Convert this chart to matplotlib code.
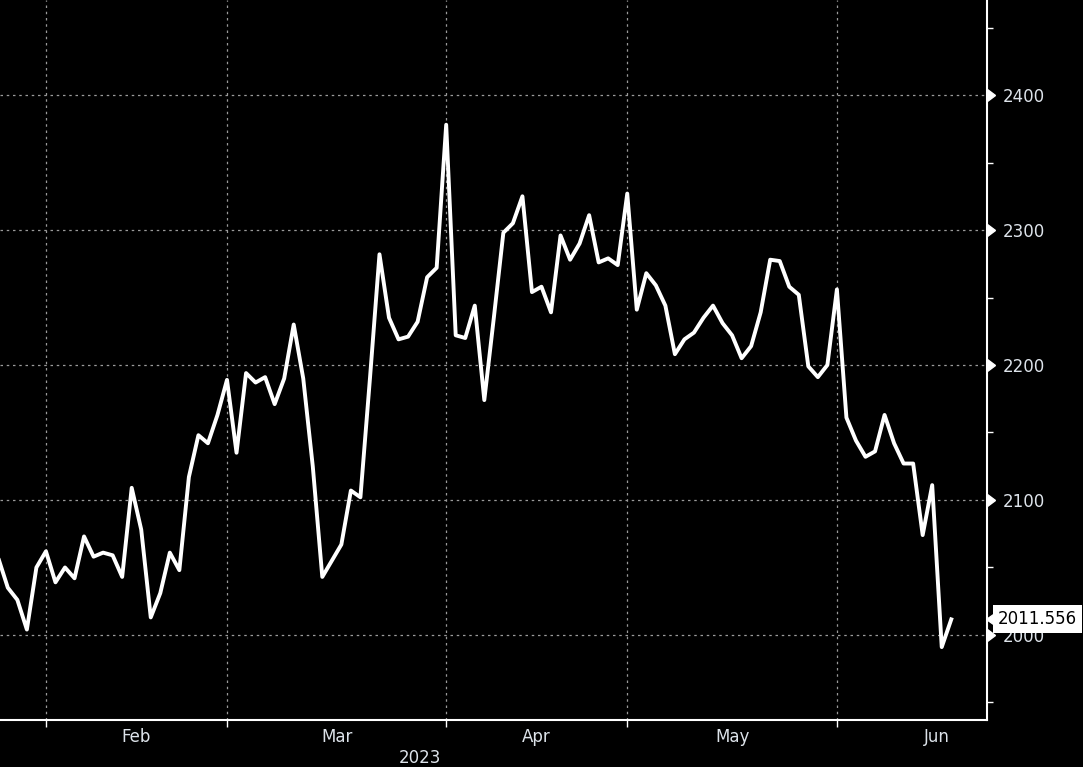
import numpy as np
import pandas as pd
import matplotlib
matplotlib.use("Agg")
import matplotlib.pyplot as plt
import matplotlib.transforms as mtransforms

# daily closes, one per trading day (US market calendar)
start_day = "2023-01-25"
holidays = ["2023-02-20", "2023-04-07", "2023-05-29", "2023-06-19", "2023-07-04"]
values = [2057, 2035, 2026, 2004, 2050, 2062, 2039, 2050, 2042, 2073,
          2058, 2061, 2059, 2043, 2109, 2078, 2013, 2031, 2061, 2048,
          2117, 2148, 2142, 2163, 2189, 2135, 2194, 2187, 2191, 2171,
          2190, 2230, 2190, 2125, 2043, 2055, 2067, 2107, 2102, 2190,
          2282, 2235, 2219, 2221, 2232, 2265, 2272, 2378, 2222, 2220,
          2244, 2174, 2235, 2298, 2305, 2325, 2254, 2258, 2239, 2296,
          2278, 2290, 2311, 2276, 2279, 2274, 2327, 2241, 2268, 2259,
          2244, 2208, 2219, 2224, 2235, 2244, 2231, 2222, 2205, 2214,
          2239, 2278, 2277, 2258, 2252, 2199, 2191, 2200, 2256, 2161,
          2144, 2132, 2136, 2163, 2142, 2127, 2127, 2074, 2111, 1991,
          2011.556]
last_label = "2011.556"
y_ticks = [2000, 2100, 2200, 2300, 2400]
year_label = "2023"

fg = "#dde3ea"

# trading day calendar, a bit past the data so June gets a proper end
days = pd.bdate_range(start_day, "2023-07-31", freq="C", holidays=holidays)
x = np.arange(len(values))
month_start = [i for i in range(1, len(days)) if days[i].month != days[i - 1].month]
starts = [i for i in month_start if i < 104]
nxt = month_start[1:len(starts) + 1]
label_pos = [(a + b) / 2 for a, b in zip(starts, nxt)]
label_txt = [days[i].strftime("%b") for i in starts]

fig = plt.figure(figsize=(10.83, 7.67), dpi=100, facecolor="black")
ax = fig.add_axes([0, 1 - 720 / 767, 987 / 1083, 720 / 767])
ax.set_facecolor("black")

ax.plot(x, values, color="white", lw=2.8, solid_joinstyle="round", zorder=3)

ax.set_xlim(0.18, 103.75)
ax.set_ylim(1937, 2470.4)

for s in ["left", "top"]:
    ax.spines[s].set_visible(False)
for s in ["right", "bottom"]:
    ax.spines[s].set_color("white")
    ax.spines[s].set_linewidth(1.5)

# y axis on the right
ax.yaxis.tick_right()
ax.set_yticks(y_ticks)
ax.set_yticks(np.arange(1950, 2470, 50), minor=True)
ax.set_yticklabels([str(v) for v in y_ticks])
ax.tick_params(axis="y", which="major", length=0, pad=11, labelsize=12, labelcolor=fg)
ax.tick_params(axis="y", which="minor", length=4, width=1, color="white")
trans_y = mtransforms.blended_transform_factory(ax.transAxes, ax.transData)
ax.plot([1.0] * len(y_ticks), y_ticks, ls="none", marker=9, ms=8, color="white",
        transform=trans_y, clip_on=False, zorder=5)

# x axis: ticks on month starts, names in the middle of each month
ax.set_xticks(starts)
ax.set_xticklabels([""] * len(starts))
ax.set_xticks(label_pos, minor=True)
ax.set_xticklabels(label_txt, minor=True)
ax.tick_params(axis="x", which="major", length=5, width=1, color="white", direction="out")
ax.tick_params(axis="x", which="minor", length=0, pad=6, labelsize=12, labelcolor=fg)

ax.grid(True, which="major", color="#9a9a9a", ls=(0, (2, 3)), lw=0.9)
ax.set_axisbelow(True)

fig.text(420 / 1083, 1 - 758 / 767, year_label, color=fg, fontsize=12, ha="center", va="center")

# last value tag
ax.text(1 + 11 / 987, values[-1], last_label, transform=trans_y, color="black",
        fontsize=12, ha="left", va="center", clip_on=False, zorder=6,
        bbox=dict(boxstyle="square,pad=0.3", fc="white", ec="none"))
ax.plot([1 + 9 / 987], [values[-1]], ls="none", marker=8, ms=10, color="white",
        transform=trans_y, clip_on=False, zorder=6)

fig.savefig("out.png", dpi=100, facecolor="black")
